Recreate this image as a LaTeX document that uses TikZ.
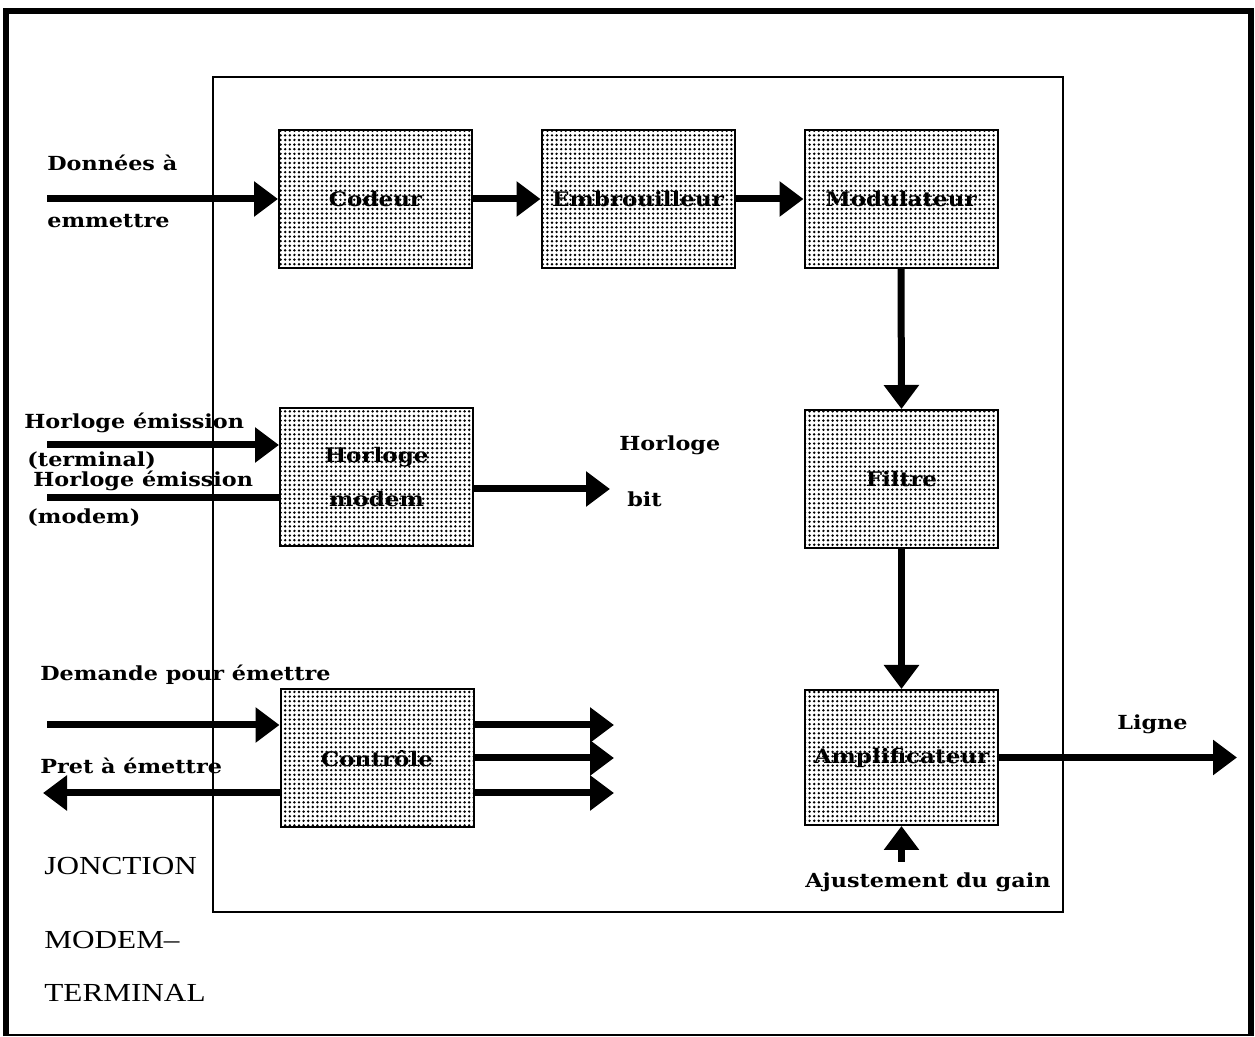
\documentclass[tikz,border=0pt]{standalone}
\usepackage{fontspec}
\setmainfont{DejaVu Serif}[FakeStretch=1.15]
\newfontfamily\titlefont{Liberation Serif}[FakeStretch=1.2]
\usetikzlibrary{arrows.meta,patterns}
\pgfdeclarepatternformonly{mydots}{\pgfpoint{-1.2pt}{-1.2pt}}{\pgfpoint{1.2pt}{1.2pt}}{\pgfpoint{2.3pt}{2.3pt}}{\pgfpathcircle{\pgfpointorigin}{0.68pt}\pgfusepath{fill}}
\begin{document}
\begin{tikzpicture}[x=0.5pt,y=-0.5pt,
  blk/.style={draw, line width=1pt, pattern=mydots, minimum width=96.5pt, minimum height=69pt, inner sep=0pt, align=center, font=\bfseries\fontsize{10}{12}\selectfont},
  lbl/.style={anchor=west, inner sep=0pt, font=\bfseries\fontsize{9.7}{11}\selectfont},
  big/.style={anchor=west, inner sep=0pt, font=\titlefont\fontsize{13}{15}\selectfont},
  arr/.style={line width=3.5pt, -{Triangle[length=12pt,width=17pt]}},
  ln/.style={line width=3.5pt}]
\useasboundingbox (0,0) rectangle (1255,1037);
% outer frame
\draw[line width=1pt] (6,1035) -- (1251,1035);
\draw[line width=3.4pt] (6,1036) -- (6,11) -- (1251,11) -- (1251,1036);
% inner frame
\draw[line width=0.7pt] (213,77) rectangle (1063,912);
% blocks
\node[blk] (cod) at (375.5,199) {Codeur};
\node[blk] (emb) at (638,199) {Embrouilleur};
\node[blk] (mod) at (901,199) {Modulateur};
\node[blk] (hor) at (376.5,477.5) {Horloge\\[10pt]modem};
\node[blk] (fil) at (901.5,479) {Filtre};
\node[blk] (con) at (377,758.5) {Contrôle};
\node[blk, minimum height=67.5pt] (amp) at (901.5,757.5) {Amplificateur};
% coordinates of free ends
\coordinate (din) at (47,199);
\coordinate (hin1) at (47,445);
\coordinate (hin2) at (47,498);
\coordinate (hb) at (610,489);
\coordinate (cin) at (47,725);
\coordinate (cout) at (43,793);
\coordinate (c1) at (614,725);
\coordinate (c2) at (614,758);
\coordinate (c3) at (614,793);
\coordinate (lig) at (1237,757.5);
\coordinate (gin) at (901.5,862);
% connectors
\draw[arr] (din) -- (cod.west);
\draw[arr] (cod.east) -- (emb.west);
\draw[arr] (emb.east) -- (mod.west);
\draw[arr] (mod.south) -- (fil.north);
\draw[arr] (fil.south) -- (amp.north);
\draw[arr] (amp.east) -- (lig);
\draw[arr] (gin) -- (amp.south);
\draw[arr] (hin1) -- (hin1 -| hor.west);
\draw[ln] (hin2) -- (hin2 -| hor.west);
\draw[arr] (hb -| hor.east) -- (hb);
\draw[arr] (cin) -- (cin -| con.west);
\draw[arr] (cout -| con.west) -- (cout);
\draw[arr] (c1 -| con.east) -- (c1);
\draw[arr] (c2 -| con.east) -- (c2);
\draw[arr] (c3 -| con.east) -- (c3);
% labels
\node[lbl] (t1) at (47,163) {Données à};
\node[lbl] (t2) at (47,221) {emmettre};
\node[lbl] (t3) at (24,423) {Horloge émission};
\node[lbl] (t4) at (27,461) {(terminal)};
\node[lbl] (t5) at (33,481) {Horloge émission};
\node[lbl] (t6) at (27,518) {(modem)};
\node[lbl] (t7) at (619,445) {Horloge};
\node[lbl] (t8) at (627,499) {bit};
\node[lbl] (t9) at (40,675) {Demande pour émettre};
\node[lbl] (t10) at (40,766) {Pret à émettre};
\node[lbl] (t11) at (1117,724) {Ligne};
\node[lbl] (t12) at (805,882) {Ajustement du gain};
\node[big] (j1) at (44,866) {JONCTION};
\node[big] (j2) at (44,940) {MODEM–};
\node[big] (j3) at (44,993) {TERMINAL};
\end{tikzpicture}
\end{document}
